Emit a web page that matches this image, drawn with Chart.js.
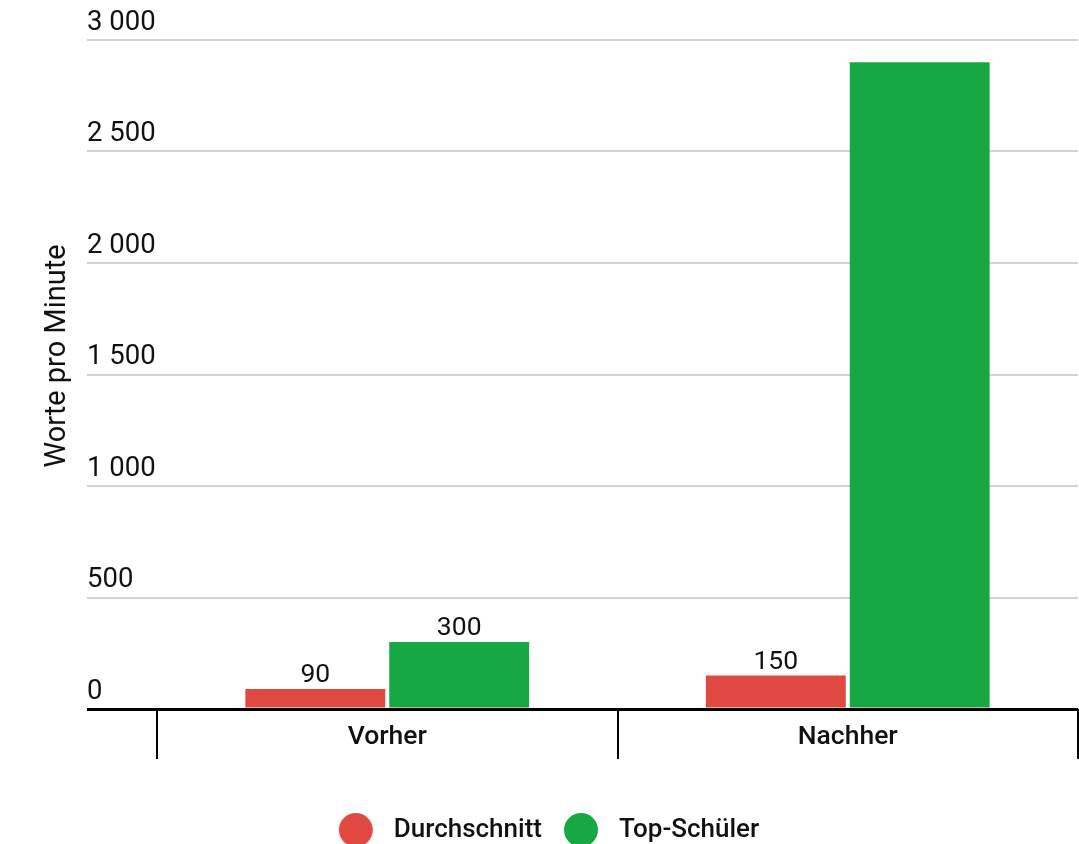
<!DOCTYPE html>
<html>
<head>
<meta charset="utf-8">
<script src="https://cdn.jsdelivr.net/npm/chart.js@4/dist/chart.umd.min.js"></script>
<style>
  html, body { margin: 0; padding: 0; background: #fff; }
  canvas { display: block; }
</style>
</head>
<body>
<canvas id="chart" width="1079" height="844"></canvas>
<script>
const kategorien = ["Vorher", "Nachher"];
const durchschnitt = [90, 150];
const topSchueler = [300, 2900];
const serienNamen = ["Durchschnitt", "Top-Schüler"];
const achsenTitel = "Worte pro Minute";

const rot = "rgb(224, 73, 66)";
const gruen = "rgb(23, 168, 67)";

function tausender(v) {
	return String(v).replace(/\B(?=(\d{3})+(?!\d))/g, " ");
}

// legend dot: drawn on a small canvas so the gap to the text matches
function legendDot(color) {
	const c = document.createElement("canvas");
	c.width = 56;
	c.height = 36;
	const g = c.getContext("2d");
	g.fillStyle = color;
	g.beginPath();
	g.arc(31, 18, 17, 0, Math.PI * 2);
	g.fill();
	return c;
}
const dots = [legendDot(rot), legendDot(gruen)];

// value labels above the bars, only where there is room below the top
const wertLabels = {
	id: "wertLabels",
	afterDatasetsDraw(chart) {
		const ctx = chart.ctx;
		ctx.save();
		ctx.font = "26.5px Roboto";
		ctx.fillStyle = "#111";
		ctx.textAlign = "center";
		ctx.textBaseline = "alphabetic";
		chart.data.datasets.forEach((ds, i) => {
			chart.getDatasetMeta(i).data.forEach((bar, j) => {
				if (bar.y - 34 < chart.chartArea.top) return;
				ctx.fillText(tausender(ds.data[j]), bar.x, bar.y - 7);
			});
		});
		ctx.restore();
	}
};

// y axis title, sits a bit above the middle like in the original
const yTitel = {
	id: "yTitel",
	afterDraw(chart) {
		const ctx = chart.ctx;
		ctx.save();
		ctx.translate(58, 356);
		ctx.rotate(-Math.PI / 2);
		ctx.font = "29px Roboto";
		ctx.fillStyle = "#111";
		ctx.textAlign = "center";
		ctx.textBaseline = "middle";
		ctx.fillText(achsenTitel, 0, 0);
		ctx.restore();
	}
};

new Chart(document.getElementById("chart").getContext("2d"), {
	type: "bar",
	data: {
		labels: kategorien,
		datasets: [{
			label: serienNamen[0],
			data: durchschnitt,
			backgroundColor: rot,
			categoryPercentage: 0.625,
			barPercentage: 0.972
		}, {
			label: serienNamen[1],
			data: topSchueler,
			backgroundColor: gruen,
			categoryPercentage: 0.625,
			barPercentage: 0.972
		}]
	},
	options: {
		responsive: false,
		animation: false,
		devicePixelRatio: 1,
		layout: {
			padding: { top: 40, right: 1, bottom: -9, left: 6 }
		},
		plugins: {
			tooltip: { enabled: false },
			legend: {
				position: "bottom",
				labels: {
					usePointStyle: true,
					pointStyleWidth: 56,
					padding: 8,
					color: "#111",
					font: { family: "Roboto", size: 26, weight: "500" },
					generateLabels(chart) {
						const items = Chart.defaults.plugins.legend.labels.generateLabels(chart);
						items.forEach((it, i) => { it.pointStyle = dots[i]; });
						return items;
					}
				}
			}
		},
		scales: {
			x: {
				offset: true,
				border: { display: false },
				grid: {
					offset: true,
					drawOnChartArea: false,
					drawTicks: true,
					tickLength: 50,
					color: "#000",
					lineWidth: 2
				},
				ticks: {
					padding: -38,
					color: "#111",
					font: { family: "Roboto", size: 26.5, weight: "500" }
				},
				afterFit(scale) { scale.height = 100; }
			},
			y: {
				min: 0,
				max: 3000,
				border: { display: false },
				grid: {
					drawTicks: true,
					tickLength: 70,
					color: (c) => c.tick && c.tick.value === 0 ? "#000" : "#d3d3d3",
					lineWidth: (c) => c.tick && c.tick.value === 0 ? 3 : 2
				},
				ticks: {
					stepSize: 500,
					mirror: true,
					padding: -70,
					crossAlign: "near",
					labelOffset: -17,
					color: "#111",
					font: { family: "Roboto", size: 27.5 },
					callback: (v) => tausender(v)
				},
				afterFit(scale) { scale.width = 151; }
			}
		}
	},
	plugins: [wertLabels, yTitel]
});
</script>
</body>
</html>
